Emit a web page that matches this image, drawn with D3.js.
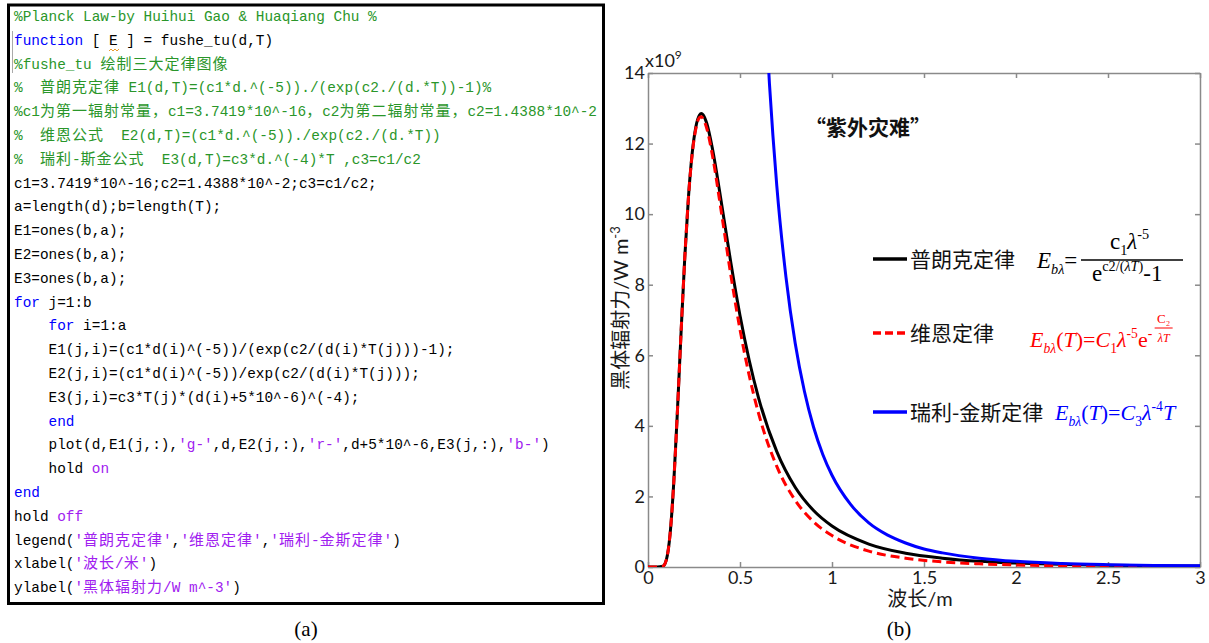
<!DOCTYPE html>
<html>
<head>
<meta charset="utf-8">
<script src="https://cdn.jsdelivr.net/npm/d3@7"></script>
<style>
  body { margin: 0; background: #fff; }
  svg text { white-space: pre; }
</style>
</head>
<body>
<div id="chart"></div>
<script>
// values: wavelength on x, radiant power in units of 1e9
var wavelength = [0, 0.05, 0.08, 0.1, 0.12, 0.14, 0.16, 0.18, 0.2, 0.22, 0.24, 0.26, 0.28, 0.29, 0.3, 0.32, 0.35, 0.4, 0.45, 0.5, 0.55, 0.6, 0.7, 0.8, 0.9, 1.0, 1.2, 1.4, 1.6, 1.8, 2.0, 2.5, 3.0];
var planck = [0, 0, 0.02, 0.21, 0.93, 2.39, 4.43, 6.68, 8.78, 10.49, 11.72, 12.47, 12.81, 12.85, 12.81, 12.56, 11.86, 10.29, 8.63, 7.13, 5.86, 4.81, 3.27, 2.26, 1.6, 1.16, 0.65, 0.39, 0.25, 0.16, 0.11, 0.05, 0.025];
var wien = [0, 0, 0.02, 0.21, 0.93, 2.39, 4.43, 6.68, 8.77, 10.48, 11.69, 12.42, 12.74, 12.76, 12.7, 12.42, 11.67, 10.01, 8.28, 6.73, 5.43, 4.37, 2.85, 1.89, 1.28, 0.89, 0.45, 0.25, 0.145, 0.09, 0.057, 0.021, 0.01];
var rjWavelength = [0.6, 0.63, 0.66, 0.7, 0.75, 0.8, 0.85, 0.9, 0.95, 1.0, 1.1, 1.2, 1.3, 1.4, 1.5, 1.6, 1.8, 2.0, 2.25, 2.5, 2.75, 3.0];
var rayleighJeans = [20.0, 16.5, 13.7, 10.8, 8.21, 6.34, 4.98, 3.96, 3.19, 2.6, 1.78, 1.25, 0.91, 0.68, 0.51, 0.4, 0.25, 0.16, 0.1, 0.067, 0.045, 0.032];
var xTicks = [0, 0.5, 1, 1.5, 2, 2.5, 3];
var yTicks = [0, 2, 4, 6, 8, 10, 12, 14];
var legendNames = ["普朗克定律", "维恩定律", "瑞利-金斯定律"];

// panel (a): matlab listing, each line is a list of [style, text]
var codeLines = [
  [["c", "%Planck Law-by Huihui Gao & Huaqiang Chu %"]],
  [["k", "function"], ["n", " [ E ] = fushe_tu(d,T)"]],
  [["c", "%fushe_tu 绘制三大定律图像"]],
  [["c", "%  普朗克定律 E1(d,T)=(c1*d.^(-5))./(exp(c2./(d.*T))-1)%"]],
  [["c", "%c1为第一辐射常量，c1=3.7419*10^-16，c2为第二辐射常量，c2=1.4388*10^-2"]],
  [["c", "%  维恩公式  E2(d,T)=(c1*d.^(-5))./exp(c2./(d.*T))"]],
  [["c", "%  瑞利-斯金公式  E3(d,T)=c3*d.^(-4)*T ,c3=c1/c2"]],
  [["n", "c1=3.7419*10^-16;c2=1.4388*10^-2;c3=c1/c2;"]],
  [["n", "a=length(d);b=length(T);"]],
  [["n", "E1=ones(b,a);"]],
  [["n", "E2=ones(b,a);"]],
  [["n", "E3=ones(b,a);"]],
  [["k", "for"], ["n", " j=1:b"]],
  [["n", "    "], ["k", "for"], ["n", " i=1:a"]],
  [["n", "    E1(j,i)=(c1*d(i)^(-5))/(exp(c2/(d(i)*T(j)))-1);"]],
  [["n", "    E2(j,i)=(c1*d(i)^(-5))/exp(c2/(d(i)*T(j)));"]],
  [["n", "    E3(j,i)=c3*T(j)*(d(i)+5*10^-6)^(-4);"]],
  [["n", "    "], ["k", "end"]],
  [["n", "    plot(d,E1(j,:),"], ["s", "'g-'"], ["n", ",d,E2(j,:),"], ["s", "'r-'"], ["n", ",d+5*10^-6,E3(j,:),"], ["s", "'b-'"], ["n", ")"]],
  [["n", "    hold "], ["s", "on"]],
  [["k", "end"]],
  [["n", "hold "], ["s", "off"]],
  [["n", "legend("], ["s", "'普朗克定律'"], ["n", ","], ["s", "'维恩定律'"], ["n", ","], ["s", "'瑞利-金斯定律'"], ["n", ")"]],
  [["n", "xlabel("], ["s", "'波长/米'"], ["n", ")"]],
  [["n", "ylabel("], ["s", "'黑体辐射力/W m^-3'"], ["n", ")"]]
];

var codeColors = { c: "#2a962a", k: "#0000ff", s: "#a020f0", n: "#000000" };
var monoFont = "Liberation Mono, monospace";
var cjkFont = "Noto Sans CJK SC, sans-serif";
var sansFont = "Lato, Open Sans, Noto Sans CJK SC, sans-serif";
var serifFont = "Liberation Serif, serif";

var svg = d3.select("#chart")
  .append("svg")
  .attr("width", 1209)
  .attr("height", 643);

svg.append("rect")
  .attr("width", 1209)
  .attr("height", 643)
  .attr("fill", "#fff");

// ---------- panel (a) ----------
var codeGroup = svg.append("g");

codeGroup.append("rect")
  .attr("x", 8.5)
  .attr("y", 5)
  .attr("width", 595)
  .attr("height", 598.5)
  .attr("fill", "none")
  .attr("stroke", "#000")
  .attr("stroke-width", 3);

var colW = 8.64, cjkW = 16, codeX = 14, codeY0 = 21, lineH = 23.8;
var cjkRe = /[\u3000-\u9fff\uff00-\uffef]/;

codeLines.forEach(function(segs, i) {
  var t = codeGroup.append("text").attr("y", codeY0 + i * lineH);
  var pos = 0;
  segs.forEach(function(seg) {
    var runs = seg[1].match(/[\u3000-\u9fff\uff00-\uffef]+|[^\u3000-\u9fff\uff00-\uffef]+/g);
    runs.forEach(function(r) {
      var cjk = cjkRe.test(r);
      t.append("tspan")
        .attr("x", codeX + pos)
        .attr("fill", codeColors[seg[0]])
        .attr("font-family", cjk ? cjkFont : monoFont)
        .attr("font-size", cjk ? 15 : 14.4)
        .attr("letter-spacing", cjk ? 1 : 0)
        .text(r);
      pos += cjk ? r.length * cjkW : r.length * colW;
    });
  });
});

// editor change bar and the squiggle under E
codeGroup.append("line")
  .attr("x1", 12.5).attr("x2", 12.5)
  .attr("y1", 31).attr("y2", 73)
  .attr("stroke", "#aaa").attr("stroke-width", 1);
codeGroup.append("path")
  .attr("d", "M109,51 l2,-2 l2,2 l2,-2 l2,2 l2,-2")
  .attr("fill", "none")
  .attr("stroke", "#e89a30")
  .attr("stroke-width", 1);

svg.append("text")
  .attr("x", 306).attr("y", 636)
  .attr("text-anchor", "middle")
  .attr("font-family", serifFont)
  .attr("font-size", 21)
  .text("(a)");

// ---------- panel (b) ----------
var x = d3.scaleLinear().domain([0, 3]).range([648, 1200]);
var y = d3.scaleLinear().domain([0, 14]).range([567, 73]);

function styleAxis(g) {
  g.selectAll("path, line").attr("stroke", "#8a8a8a").attr("stroke-width", 1.5);
  g.selectAll("text").attr("font-family", sansFont).attr("font-size", 18).attr("fill", "#1a1a1a");
}

svg.append("g")
  .attr("transform", "translate(0,567)")
  .call(d3.axisBottom(x).tickValues(xTicks).tickFormat(function(d) { return String(d); })
    .tickSizeInner(-5).tickSizeOuter(0).tickPadding(4))
  .call(styleAxis);

svg.append("g")
  .attr("transform", "translate(648,0)")
  .call(d3.axisLeft(y).tickValues(yTicks).tickFormat(function(d) { return String(d); })
    .tickSizeInner(-5).tickSizeOuter(0).tickPadding(3))
  .call(styleAxis);

svg.append("g")
  .attr("transform", "translate(0,73)")
  .call(d3.axisTop(x).tickValues(xTicks).tickFormat("").tickSizeInner(-5).tickSizeOuter(0))
  .call(styleAxis);

svg.append("g")
  .attr("transform", "translate(1200,0)")
  .call(d3.axisRight(y).tickValues(yTicks).tickFormat("").tickSizeInner(-5).tickSizeOuter(0))
  .call(styleAxis);

// x10^9 multiplier
var mult = svg.append("text")
  .attr("x", 645).attr("y", 67)
  .attr("font-family", sansFont).attr("font-size", 18).attr("fill", "#1a1a1a")
  .text("x10");
mult.append("tspan").attr("dy", -8).attr("font-size", 12).text("9");

svg.append("clipPath").attr("id", "plotClip")
  .append("rect")
  .attr("x", 648).attr("y", 73)
  .attr("width", 552).attr("height", 494);

var line = d3.line()
  .x(function(d) { return x(d[0]); })
  .y(function(d) { return y(d[1]); })
  .curve(d3.curveMonotoneX);

var plotGroup = svg.append("g").attr("clip-path", "url(#plotClip)");

plotGroup.append("path")
  .datum(d3.zip(wavelength, planck))
  .attr("d", line)
  .attr("fill", "none")
  .attr("stroke", "#000")
  .attr("stroke-width", 3);

plotGroup.append("path")
  .datum(d3.zip(wavelength, wien))
  .attr("d", line)
  .attr("fill", "none")
  .attr("stroke", "#ff0000")
  .attr("stroke-width", 3)
  .attr("stroke-dasharray", "9,5");

plotGroup.append("path")
  .datum(d3.zip(rjWavelength, rayleighJeans))
  .attr("d", line)
  .attr("fill", "none")
  .attr("stroke", "#0000ff")
  .attr("stroke-width", 3);

// axis titles
var yTitle = svg.append("text")
  .attr("transform", "translate(628,308) rotate(-90)")
  .attr("text-anchor", "middle")
  .attr("font-family", sansFont)
  .attr("font-size", 20)
  .attr("fill", "#1a1a1a")
  .text("黑体辐射力/W m");
yTitle.append("tspan").attr("dy", -8).attr("font-size", 13).text("-3");

svg.append("text")
  .attr("x", 920).attr("y", 606)
  .attr("text-anchor", "middle")
  .attr("font-family", sansFont)
  .attr("font-size", 20)
  .attr("fill", "#1a1a1a")
  .text("波长/m");

svg.append("text")
  .attr("x", 805).attr("y", 135)
  .attr("font-family", cjkFont)
  .attr("font-size", 21)
  .attr("font-weight", "bold")
  .attr("fill", "#111")
  .text("“紫外灾难”");

svg.append("text")
  .attr("x", 899).attr("y", 636)
  .attr("text-anchor", "middle")
  .attr("font-family", serifFont)
  .attr("font-size", 21)
  .text("(b)");

// legend
var legendColors = ["#000", "#ff0000", "#0000ff"];
var legendY = [259, 333, 412];
var legend = svg.append("g");
legendNames.forEach(function(name, i) {
  legend.append("line")
    .attr("x1", 873).attr("x2", 907)
    .attr("y1", legendY[i]).attr("y2", legendY[i])
    .attr("stroke", legendColors[i])
    .attr("stroke-width", 3.5)
    .attr("stroke-dasharray", i == 1 ? "8,4" : null);
  legend.append("text")
    .attr("x", 910).attr("y", legendY[i] + 8)
    .attr("font-family", cjkFont)
    .attr("font-size", 21)
    .attr("fill", "#111")
    .text(name);
});

// formulas
function mathText(parent, x0, y0, parts, color, size) {
  var t = parent.append("text")
    .attr("x", x0).attr("y", y0)
    .attr("fill", color)
    .attr("font-family", serifFont)
    .attr("font-size", size);
  var cur = 0;
  parts.forEach(function(p) {
    var st = p[1];
    var shift = 0, fs = size;
    if (st.indexOf("sub") == 0) { shift = 0.28 * size; fs = size * 0.62; }
    if (st.indexOf("sup") == 0) { shift = -0.42 * size; fs = size * 0.62; }
    t.append("tspan")
      .attr("dy", shift - cur)
      .attr("font-size", fs)
      .attr("font-style", st.slice(-1) == "i" ? "italic" : "normal")
      .text(p[0]);
    cur = shift;
  });
  return t;
}

// planck
mathText(legend, 1037, 268, [["E", "i"], ["bλ", "subi"], ["=", "n"]], "#000", 23);
legend.append("line")
  .attr("x1", 1081).attr("x2", 1183)
  .attr("y1", 260).attr("y2", 260)
  .attr("stroke", "#000").attr("stroke-width", 1.3);
mathText(legend, 1110, 249, [["c", "n"], ["1", "sub"], ["λ", "i"], ["-5", "sup"]], "#000", 23);
mathText(legend, 1092, 281, [["e", "n"], ["c2/(", "sup"], ["λT", "supi"], [")", "sup"], ["-1", "n"]], "#000", 23);

// wien
var wienText = mathText(legend, 1030, 347,
  [["E", "i"], ["bλ", "subi"], ["(", "n"], ["T", "i"], [")=", "n"], ["C", "i"], ["1", "sub"],
   ["λ", "i"], ["-5", "sup"], ["e", "n"], ["-", "sup"]], "#ff0000", 22);
var wb = wienText.node().getBBox();
var fx = wb.x + wb.width + 11;
legend.append("text")
  .attr("x", fx).attr("y", 323)
  .attr("text-anchor", "middle")
  .attr("fill", "#ff0000")
  .attr("font-family", serifFont)
  .attr("font-size", 13)
  .text("C₂");
legend.append("line")
  .attr("x1", fx - 9).attr("x2", fx + 9)
  .attr("y1", 328).attr("y2", 328)
  .attr("stroke", "#ff0000").attr("stroke-width", 1);
legend.append("text")
  .attr("x", fx).attr("y", 342)
  .attr("text-anchor", "middle")
  .attr("fill", "#ff0000")
  .attr("font-family", serifFont)
  .attr("font-style", "italic")
  .attr("font-size", 12)
  .text("λT");

// rayleigh-jeans
mathText(legend, 1055, 420,
  [["E", "i"], ["bλ", "subi"], ["(", "n"], ["T", "i"], [")=", "n"], ["C", "i"], ["3", "sub"],
   ["λ", "i"], ["-4", "sup"], ["T", "i"]], "#0000ff", 22);
</script>
</body>
</html>
